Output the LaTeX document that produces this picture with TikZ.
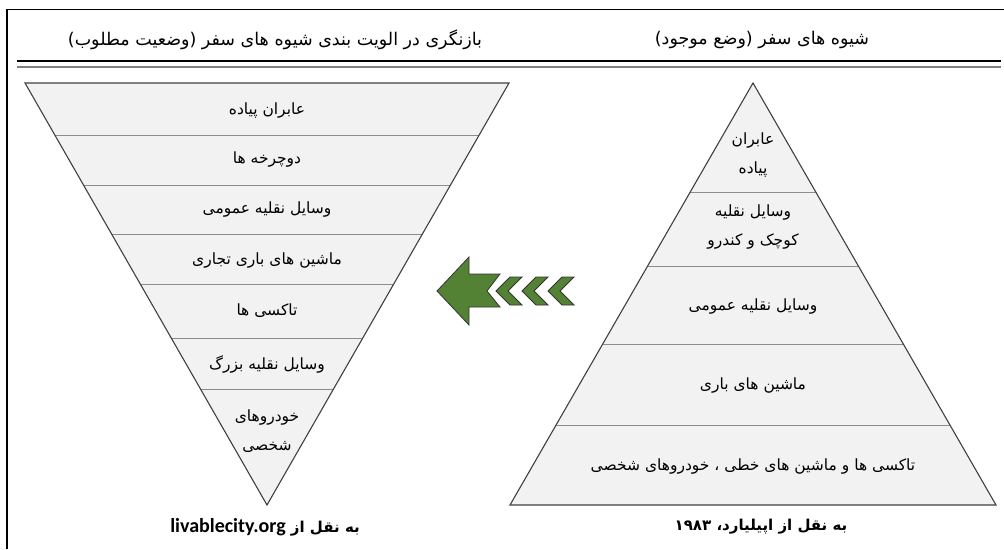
\documentclass[tikz,border=0pt]{standalone}
\usepackage{fontspec}
\usepackage{xcolor}
\usepackage{tikz}
\usetikzlibrary{positioning,calc}
\newfontfamily\farsifont[Script=Arabic]{DejaVu Sans}
\newfontfamily\latinfont{Carlito}
\TeXXeTstate=1
\newcommand{\fatxt}[1]{\beginR #1\endR}
\definecolor{bandfill}{HTML}{F2F2F2}
\definecolor{edgegray}{HTML}{404040}
\definecolor{divgray}{HTML}{8C8C8C}
\definecolor{arrowgreen}{RGB}{84,130,53}

\begin{document}
\begin{tikzpicture}[x=1pt, y=-1pt,
    lbl/.style={font=\farsifont\fontsize{15.5}{29}\selectfont, align=center, text=black},
    head/.style={font=\farsifont\fontsize{17.5}{20}\selectfont},
    src/.style={font=\farsifont\bfseries\fontsize{15}{18}\selectfont},
    outline/.style={draw=edgegray, line width=1.1pt, line join=miter},
    chev/.style={fill=arrowgreen, draw=black!80, line width=0.8pt}]
    \useasboundingbox (0,0) rectangle (1004,549);

    % frame and header rules
    \draw[line width=1.6pt] (7,549) |- (1004,9.5);
    \draw[line width=1.5pt] (17,61) -- (1001,61);
    \draw[line width=1.5pt, gray] (17,67) -- (1001,67);
    \node[head] (hleft) at (275,40) {\fatxt{بازنگری در الویت بندی شیوه های سفر (وضعیت مطلوب)}};
    \node[head] (hright) at (762,40) {\fatxt{شیوه های سفر (وضع موجود)}};

    % inverted pyramid (desired)
    \coordinate (iTL) at (25,83);
    \coordinate (iTR) at (509,83);
    \coordinate (iA) at (267,505);
    \begin{scope}
        \clip (iTL) -- (iTR) -- (iA) -- cycle;
        \fill[bandfill] (iTL) -- (iTR) -- (iA) -- cycle;
        \foreach \y in {135,185,234,284,338,389}
            \draw[divgray, line width=0.9pt] (0,\y) -- (520,\y);
    \end{scope}
    \draw[outline] (iTL) -- (iTR) -- (iA) -- cycle;
    \node[lbl] (i1) at (267,111) {\fatxt{عابران پیاده}};
    \node[lbl] (i2) at (267,160) {\fatxt{دوچرخه ها}};
    \node[lbl] (i3) at (267,210) {\fatxt{وسایل نقلیه عمومی}};
    \node[lbl] (i4) at (267,260) {\fatxt{ماشین های باری تجاری}};
    \node[lbl] (i5) at (267,311) {\fatxt{تاکسی ها}};
    \node[lbl] (i6) at (267,364) {\fatxt{وسایل نقلیه بزرگ}};
    \node[lbl] (i7) at (267,431) {\fatxt{خودروهای}\\\fatxt{شخصی}};

    % pyramid (current)
    \coordinate (pA) at (753,83);
    \coordinate (pL) at (510,505);
    \coordinate (pR) at (996,505);
    \begin{scope}
        \clip (pA) -- (pR) -- (pL) -- cycle;
        \fill[bandfill] (pA) -- (pR) -- (pL) -- cycle;
        \foreach \y in {192,266,344,425}
            \draw[divgray, line width=0.9pt] (500,\y) -- (1004,\y);
    \end{scope}
    \draw[outline] (pA) -- (pR) -- (pL) -- cycle;
    \node[lbl] (p1) at (753,155) {\fatxt{عابران}\\\fatxt{پیاده}};
    \node[lbl] (p2) at (753,227) {\fatxt{وسایل نقلیه}\\\fatxt{کوچک و کندرو}};
    \node[lbl] (p3) at (753,306) {\fatxt{وسایل نقلیه عمومی}};
    \node[lbl] (p4) at (753,385) {\fatxt{ماشین های باری}};
    \node[lbl] (p5) at (753,466) {\fatxt{تاکسی ها و ماشین های خطی ، خودروهای شخصی}};

    % green arrow
    \draw[chev] (437,291) -- (469,257) -- (469,274) -- (500,274) -- (487,291)
        -- (500,307) -- (469,307) -- (469,325) -- cycle;
    \foreach \dx in {0,26,52}
        \draw[chev] (496+\dx,291) -- (510+\dx,277) -- (522+\dx,277) -- (508+\dx,291)
            -- (522+\dx,305) -- (510+\dx,305) -- cycle;

    % sources
    \node[src] (sleft) at (265,527) {\fatxt{به نقل از \beginL{\latinfont\bfseries\fontsize{20}{22}\selectfont livablecity.org}\endL}};
    \node[src] (sright) at (761,527) {\fatxt{به نقل از اپیلیارد، ۱۹۸۳}};
\end{tikzpicture}
\end{document}
